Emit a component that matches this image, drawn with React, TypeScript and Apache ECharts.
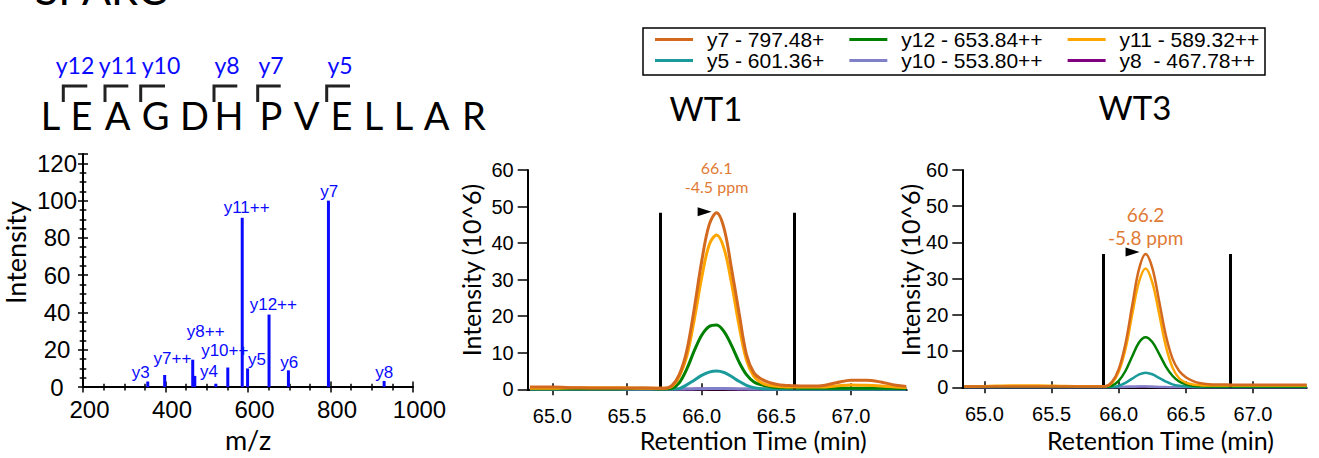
import React, { useEffect, useRef } from 'react';
import * as echarts from 'echarts';

// ---------------- Spectrum (MS/MS) ----------------
const spectrumMz = [357, 398, 466, 471, 522, 551, 586, 599, 651, 698, 795, 930];
const spectrumIntensity = [3, 6.5, 14.7, 6, 1.8, 10.5, 90.8, 10, 38.9, 9, 100, 3.3];
const spectrumLabels = ['y3', 'y7++', 'y8++', 'y4', '', 'y10++', 'y11++', 'y5', 'y12++', 'y6', 'y7', 'y8'];
const spectrumLabelOffsets = [
  [-7, -9.4], [7.8, -16], [13, -28.6], [14.3, -4.4], [0, 0], [-3, -16.7],
  [4.4, -10.5], [9.5, -9.2], [4.3, -9.8], [0.9, -7.8], [0.7, -9.4], [0, -8.8],
];

// ---------------- Peptide ----------------
const peptideTitle = 'SPARC';
const seqLetters = ['L', 'E', 'A', 'G', 'D', 'H', 'P', 'V', 'E', 'L', 'L', 'A', 'R'];
const seqX = [50.5, 81.5, 117.5, 155.5, 194.5, 229, 271, 306.5, 341.5, 373.5, 403.5, 436.5, 474];
const fragNames = ['y12', 'y11', 'y10', 'y8', 'y7', 'y5'];
const fragX = [75, 118, 161, 227, 271, 340];
const bracketX = [[63.3, 87.3], [105, 128.3], [140.7, 165], [214, 237.3], [257.7, 280.7], [326.7, 350]];

// ---------------- Chromatograms ----------------
const legendNames = ['y7 - 797.48+', 'y12 - 653.84++', 'y11 - 589.32++', 'y5 - 601.36+', 'y10 - 553.80++', 'y8  - 467.78++'];
const seriesColors = ['#D2691E', '#008000', '#FFA500', '#1A9A9A', '#8080C8', '#800080'];
const seriesZ = [6, 4, 5, 3, 2, 1];
const rtTicks = [65, 65.5, 66, 66.5, 67];

const rtWT1 = [64.85, 65.0, 65.15, 65.3, 65.45, 65.6, 65.7, 65.75, 65.8, 65.85, 65.9, 65.95, 66.0, 66.05, 66.1, 66.15, 66.2, 66.25, 66.3, 66.35, 66.4, 66.45, 66.5, 66.55, 66.6, 66.7, 66.8, 66.9, 67.0, 67.1, 67.2, 67.3, 67.37];
const wt1_y7 = [0.6, 0.6, 0.45, 0.35, 0.35, 0.35, 0.3, 0.3, 1.0, 4, 10.5, 22, 35, 45, 48.3, 44, 33, 21, 9.5, 4.5, 2.8, 1.9, 1.4, 1.1, 1.0, 0.9, 1.0, 1.8, 2.5, 2.5, 2.0, 1.1, 0.8];
const wt1_y12 = [0.1, 0.1, 0.1, 0.1, 0.1, 0.3, 0.1, 0.1, 0.3, 1.8, 5.5, 10.5, 14.8, 17.2, 17.6, 15.8, 12, 7.5, 4, 2, 1.2, 0.8, 0.5, 0.4, 0.35, 0.3, 0.3, 0.3, 0.3, 0.3, 0.3, 0.25, 0.2];
const wt1_y11 = [0.3, 0.3, 0.45, 0.45, 0.45, 0.3, 0.3, 0.3, 0.8, 3.5, 9, 19, 30.5, 39.5, 42.2, 38.5, 29, 17.5, 8, 3.5, 1.8, 1.1, 0.8, 0.7, 0.6, 0.6, 0.6, 0.9, 1.2, 1.1, 0.9, 0.6, 0.5];
const wt1_y5 = [0, 0, 0, 0, 0, 0, 0, 0, 0, 0.2, 1.2, 2.5, 3.8, 4.7, 5.0, 4.6, 3.5, 2.2, 1.1, 0.45, 0.15, 0.05, 0, 0, 0, 0, 0, 0, 0, 0, 0, 0, 0];
const wt1_y10 = [0, 0, 0, 0, 0, 0, 0, 0, 0, 0, 0.05, 0.1, 0.15, 0.2, 0.2, 0.2, 0.15, 0.1, 0.05, 0, 0, 0, 0, 0, 0, 0, 0, 0, 0, 0, 0, 0, 0];
const wt1_y8 = [0, 0, 0, 0, 0, 0, 0, 0, 0, 0, 0, 0.05, 0.1, 0.1, 0.1, 0.1, 0.05, 0, 0, 0, 0, 0, 0, 0, 0, 0, 0, 0, 0, 0, 0, 0, 0];
const wt1Boundaries = [65.72, 66.62];
const wt1BoundaryTop = 48.3;
const wt1Apex = [66.1, 48.3];
const wt1ApexText = ['66.1', '-4.5 ppm'];

const rtWT3 = [64.85, 65.0, 65.2, 65.4, 65.6, 65.75, 65.85, 65.9, 65.95, 66.0, 66.05, 66.1, 66.15, 66.2, 66.25, 66.3, 66.35, 66.4, 66.45, 66.5, 66.55, 66.6, 66.65, 66.7, 66.8, 66.9, 67.0, 67.1, 67.2, 67.3, 67.4];
const wt3_y7 = [0.25, 0.25, 0.25, 0.25, 0.25, 0.25, 0.25, 0.3, 1.5, 5, 12, 22.5, 32.5, 36.8, 33, 24, 14.5, 8, 4.5, 2.8, 1.8, 1.2, 0.9, 0.8, 0.75, 0.7, 0.7, 0.7, 0.7, 0.7, 0.7];
const wt3_y12 = [0.2, 0.2, 0.2, 0.2, 0.2, 0.2, 0.2, 0.2, 0.5, 1.8, 4.5, 8.5, 12.3, 13.8, 12.5, 9.3, 5.8, 3.2, 1.6, 0.8, 0.4, 0.3, 0.25, 0.2, 0.2, 0.2, 0.2, 0.2, 0.2, 0.2, 0.2];
const wt3_y11 = [0.25, 0.3, 0.5, 0.5, 0.35, 0.3, 0.3, 0.3, 1.2, 4.3, 10.5, 20, 29, 32.8, 29, 20.5, 11.5, 5.5, 2.5, 1.3, 0.8, 0.6, 0.5, 0.5, 0.5, 0.5, 0.5, 0.5, 0.5, 0.5, 0.5];
const wt3_y5 = [0, 0, 0, 0, 0, 0, 0, 0, 0, 0.4, 1.2, 2.4, 3.5, 4.05, 3.6, 2.6, 1.6, 0.8, 0.4, 0.2, 0.1, 0, 0, 0, 0, 0, 0, 0, 0, 0, 0];
const wt3_y10 = [0, 0, 0, 0, 0, 0, 0, 0, 0, 0.05, 0.1, 0.15, 0.2, 0.2, 0.15, 0.1, 0.05, 0, 0, 0, 0, 0, 0, 0, 0, 0, 0, 0, 0, 0, 0];
const wt3_y8 = [0, 0, 0, 0, 0, 0, 0, 0, 0, 0, 0.05, 0.1, 0.1, 0.1, 0.05, 0, 0, 0, 0, 0, 0, 0, 0, 0, 0, 0, 0, 0, 0, 0, 0];
const wt3Boundaries = [65.885, 66.827];
const wt3BoundaryTop = 36.8;
const wt3Apex = [66.2, 36.8];
const wt3ApexText = ['66.2', '-5.8 ppm'];

const NUM = '"Liberation Sans", Arial, sans-serif';
const CAL = 'Lato, "Open Sans", sans-serif';
const BLUE = '#0A0AFF';
const APEX_COLOR = '#DF7A35';

function chromSeries(
  axisIdx: number,
  rt: number[],
  values: number[][],
  boundaries: number[],
  boundaryTop: number,
  apex: number[],
  apexText: string[],
  lineWidth: number,
  apexFont: number,
  apexLineHeight: number,
  apexDistance: number,
  arrowOffset: number[],
) {
  return values.map((vals, k) => {
    const s: any = {
      name: legendNames[k],
      type: 'line',
      xAxisIndex: axisIdx === 1 ? 2 : 4,
      yAxisIndex: axisIdx === 1 ? 2 : 3,
      data: rt.map((t, i) => [t, vals[i]]),
      symbol: 'none',
      showSymbol: false,
      smooth: 0.35,
      z: seriesZ[k],
      color: seriesColors[k],
      lineStyle: { color: seriesColors[k], width: lineWidth },
      emphasis: { disabled: true },
      silent: true,
    };
    if (k === 0) {
      s.markLine = {
        silent: true,
        symbol: ['none', 'none'],
        label: { show: false },
        lineStyle: { color: '#000', width: 3, type: 'solid' },
        data: boundaries.map((b) => [{ coord: [b, 0] }, { coord: [b, boundaryTop] }]),
      };
      s.markPoint = {
        silent: true,
        data: [
          {
            coord: apex,
            symbol: 'path://M0,0L14,4.5L0,9Z',
            symbolSize: [14, 9],
            symbolOffset: arrowOffset,
            itemStyle: { color: '#000' },
            label: { show: false },
          },
          {
            coord: apex,
            symbol: 'circle',
            symbolSize: 1,
            itemStyle: { color: 'rgba(0,0,0,0)' },
            label: {
              show: true,
              position: 'top',
              distance: apexDistance,
              formatter: apexText.join('\n'),
              color: APEX_COLOR,
              fontFamily: CAL,
              fontSize: apexFont,
              lineHeight: apexLineHeight,
              align: 'center',
            },
          },
        ],
      };
    }
    return s;
  });
}

function xAxisPair(grid: number, min: number, max: number, gap: number, pad: number) {
  const tickStyle = { color: '#000', width: 1.5 };
  return [
    {
      gridIndex: grid, type: 'value', position: 'bottom', min, max,
      axisLine: { show: true, onZero: false, lineStyle: { color: '#000', width: 2 } },
      axisTick: { show: true, customValues: rtTicks, length: 6, lineStyle: tickStyle },
      axisLabel: { show: true, customValues: rtTicks, formatter: (v: number) => v.toFixed(1), color: '#000', fontFamily: NUM, fontSize: 20, margin: 17 },
      splitLine: { show: false },
      name: 'Retention Time (min)', nameLocation: 'middle', nameGap: gap,
      nameTextStyle: { fontFamily: CAL, fontSize: 25, color: '#000', padding: [0, 0, 0, pad] },
    },
    {
      gridIndex: grid, type: 'value', position: 'bottom', min, max,
      axisLine: { show: false },
      axisTick: { show: true, inside: true, customValues: rtTicks, length: 6, lineStyle: tickStyle },
      axisLabel: { show: false },
      splitLine: { show: false },
    },
  ];
}

function yAxisChrom(grid: number, gap: number, pad: number) {
  return {
    gridIndex: grid, type: 'value', position: 'left', min: 0, max: 60, interval: 10,
    axisLine: { show: true, onZero: false, lineStyle: { color: '#000', width: 2 } },
    axisTick: { show: true, length: 10, lineStyle: { color: '#000', width: 1.5 } },
    axisLabel: { color: '#000', fontFamily: NUM, fontSize: 20, margin: 14, padding: [6, 0, 0, 0] },
    splitLine: { show: false },
    name: 'Intensity (10^6)', nameLocation: 'middle', nameGap: gap,
    nameTextStyle: { fontFamily: CAL, fontSize: 25, color: '#000', padding: [0, 0, 0, pad] },
  };
}

function legendRow(names: string[], top: number) {
  return {
    data: names,
    left: 655, top,
    orient: 'horizontal',
    padding: 0,
    icon: 'rect',
    itemWidth: 38, itemHeight: 3, itemGap: 25,
    selectedMode: false,
    textStyle: { fontFamily: NUM, fontSize: 21, color: '#000', padding: [0, 0, 0, 9], lineHeight: 21 },
  };
}

function buildOption(): any {
  const tick = { color: '#000', width: 1.5 };
  const graphic: any[] = [];
  graphic.push({
    type: 'rect',
    shape: { x: 643, y: 28, width: 622, height: 47 },
    style: { fill: 'none', stroke: '#000', lineWidth: 1.5 },
  });
  graphic.push({
    type: 'text', x: 35, y: 10,
    style: { text: peptideTitle, fill: '#000', font: `43px ${CAL}`, align: 'left', verticalAlign: 'bottom', textAlign: 'left', textVerticalAlign: 'bottom' },
  });
  seqLetters.forEach((l, i) => {
    graphic.push({
      type: 'text', x: seqX[i], y: 115,
      style: { text: l, fill: '#000', font: `38px ${CAL}`, align: 'center', verticalAlign: 'middle', textAlign: 'center', textVerticalAlign: 'middle' },
    });
  });
  bracketX.forEach(([a, b]) => {
    graphic.push({
      type: 'polyline',
      shape: { points: [[a, 102], [a, 86], [b, 86]] },
      style: { stroke: '#222', lineWidth: 3, fill: null },
    });
  });
  fragNames.forEach((f, i) => {
    graphic.push({
      type: 'text', x: fragX[i], y: 65,
      style: { text: f, fill: BLUE, font: `23px ${CAL}`, align: 'center', verticalAlign: 'middle', textAlign: 'center', textVerticalAlign: 'middle' },
    });
  });
  graphic.push({
    type: 'text', x: 706, y: 108,
    style: { text: 'WT1', fill: '#000', font: `33px ${CAL}`, align: 'center', verticalAlign: 'middle', textAlign: 'center', textVerticalAlign: 'middle' },
  });
  graphic.push({
    type: 'text', x: 1135, y: 107,
    style: { text: 'WT3', fill: '#000', font: `33px ${CAL}`, align: 'center', verticalAlign: 'middle', textAlign: 'center', textVerticalAlign: 'middle' },
  });

  const spectrumSeries = {
    type: 'custom',
    xAxisIndex: 0,
    yAxisIndex: 0,
    silent: true,
    data: spectrumMz.map((m, i) => [m, spectrumIntensity[i], i]),
    renderItem: (_p: any, api: any) => {
      const i = api.value(2);
      const base = api.coord([api.value(0), 0]);
      const top = api.coord([api.value(0), api.value(1)]);
      const children: any[] = [
        { type: 'line', shape: { x1: base[0], y1: base[1], x2: top[0], y2: top[1] }, style: { stroke: BLUE, lineWidth: 3 } },
      ];
      const lab = spectrumLabels[i];
      if (lab) {
        const off = spectrumLabelOffsets[i];
        children.push({
          type: 'text', x: top[0] + off[0], y: top[1] + off[1],
          style: { text: lab, fill: BLUE, font: `17px ${NUM}`, align: 'center', verticalAlign: 'middle', textAlign: 'center', textVerticalAlign: 'middle' },
        });
      }
      return { type: 'group', children };
    },
  };

  return {
    animation: false,
    backgroundColor: '#fff',
    legend: [
      legendRow(legendNames.slice(0, 3), 29),
      legendRow(legendNames.slice(3, 6), 50),
    ],
    grid: [
      { left: 83, top: 154, width: 330, height: 242 },
      { left: 527.7, top: 170, width: 379, height: 219.3 },
      { left: 962.3, top: 170, width: 344.4, height: 217.3 },
    ],
    xAxis: [
      {
        gridIndex: 0, type: 'value', position: 'bottom', min: 200, max: 1000, interval: 200,
        axisLine: { show: true, onZero: false, lineStyle: { color: '#000', width: 2 } },
        axisTick: { show: true, length: 5.5, lineStyle: tick },
        minorTick: { show: true, splitNumber: 4, length: 3.3, lineStyle: tick },
        splitLine: { show: false }, minorSplitLine: { show: false },
        axisLabel: { color: '#000', fontFamily: NUM, fontSize: 24, margin: 10, padding: [0, 0, 0, 13], formatter: (v: number) => String(v) },
        name: 'm/z', nameLocation: 'middle', nameGap: 26,
        nameTextStyle: { fontFamily: CAL, fontSize: 27, color: '#000' },
      },
      {
        gridIndex: 0, type: 'value', position: 'bottom', min: 200, max: 1000, interval: 200,
        axisLine: { show: false },
        axisTick: { show: true, inside: true, length: 5.5, lineStyle: tick },
        minorTick: { show: true, splitNumber: 4, length: 3.3, lineStyle: tick },
        splitLine: { show: false }, axisLabel: { show: false },
      },
      ...xAxisPair(1, 64.835, 67.373, 38, 72),
      ...xAxisPair(2, 64.835, 67.4, 40, 52),
    ],
    yAxis: [
      {
        gridIndex: 0, type: 'value', position: 'left', min: 0, max: 125, interval: 20,
        axisLine: { show: true, onZero: false, lineStyle: { color: '#000', width: 2 } },
        axisTick: { show: true, length: 5, lineStyle: tick },
        minorTick: { show: true, splitNumber: 4, length: 3.3, lineStyle: tick },
        splitLine: { show: false }, minorSplitLine: { show: false },
        axisLabel: { color: '#000', fontFamily: NUM, fontSize: 24, margin: 26, align: 'center', padding: [12, 0, 0, 0], showMaxLabel: false },
        name: 'Intensity', nameLocation: 'middle', nameGap: 54,
        nameTextStyle: { fontFamily: CAL, fontSize: 27, color: '#000', padding: [0, 0, 0, 36] },
      },
      {
        gridIndex: 0, type: 'value', position: 'left', min: 0, max: 125, interval: 20,
        axisLine: { show: false },
        axisTick: { show: true, inside: true, length: 5, lineStyle: tick },
        minorTick: { show: true, splitNumber: 4, length: 3.3, lineStyle: tick },
        splitLine: { show: false }, axisLabel: { show: false },
      },
      yAxisChrom(1, 44, 19),
      yAxisChrom(2, 39, 17),
    ],
    graphic,
    series: [
      spectrumSeries,
      ...chromSeries(1, rtWT1, [wt1_y7, wt1_y12, wt1_y11, wt1_y5, wt1_y10, wt1_y8], wt1Boundaries, wt1BoundaryTop, wt1Apex, wt1ApexText, 3, 16, 19, 16, [-12, -1]),
      ...chromSeries(2, rtWT3, [wt3_y7, wt3_y12, wt3_y11, wt3_y5, wt3_y10, wt3_y8], wt3Boundaries, wt3BoundaryTop, wt3Apex, wt3ApexText, 2.5, 19, 23, 5, [-13, -2]),
    ],
  };
}

export default function App() {
  const ref = useRef<HTMLDivElement>(null);
  useEffect(() => {
    if (!ref.current) return;
    const chart = echarts.init(ref.current, undefined, { renderer: 'svg' });
    chart.setOption(buildOption());
    return () => chart.dispose();
  }, []);
  return <div ref={ref} style={{ position: 'absolute', left: 0, top: 0, width: 1319, height: 458, background: '#fff' }} />;
}
